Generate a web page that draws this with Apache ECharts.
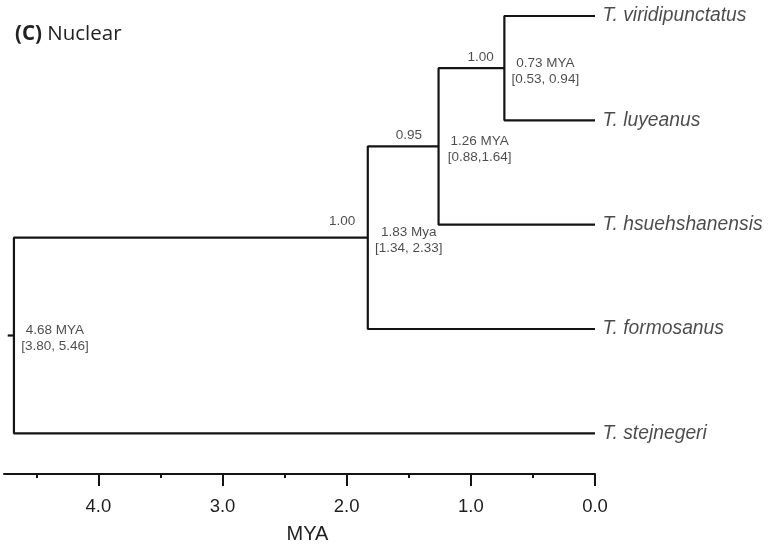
<!DOCTYPE html>
<html>
<head>
<meta charset="utf-8">
<script src="https://cdn.jsdelivr.net/npm/echarts@6/dist/echarts.min.js"></script>
<style>
html,body{margin:0;padding:0;background:#fff;}
#chart{width:768px;height:549px;}
</style>
</head>
<body>
<div id="chart"></div>
<script>
// ---- data ----
const taxa = ['T. viridipunctatus', 'T. luyeanus', 'T. hsuehshanensis', 'T. formosanus', 'T. stejnegeri'];
const nodeAges = [0.73, 1.26, 1.83, 4.68];
const nodeAgeLabels = ['0.73 MYA', '1.26 MYA', '1.83 Mya', '4.68 MYA'];
const nodeHPD = ['[0.53, 0.94]', '[0.88,1.64]', '[1.34, 2.33]', '[3.80, 5.46]'];
const nodeSupport = ['1.00', '0.95', '1.00', null];
// children of each node: 'L' = leaf index, 'N' = node index
const nodeChildren = [
  [['L', 0], ['L', 1]],
  [['N', 0], ['L', 2]],
  [['N', 1], ['L', 3]],
  [['N', 2], ['L', 4]]
];
const xTicks = [0, 1, 2, 3, 4];
const xMinorTicks = [0.5, 1.5, 2.5, 3.5, 4.5];
const axisName = 'MYA';

// ---- layout derived from topology ----
const LINE = '#141414';
const TXT = '#1e1e1e';
const FONT = '"Liberation Sans", Arial, sans-serif';
const nodeY = [];
function childPos(c) {
  return c[0] === 'L' ? [0, c[1]] : [nodeAges[c[1]], nodeY[c[1]]];
}
nodeChildren.forEach((ch, i) => {
  const a = childPos(ch[0]), b = childPos(ch[1]);
  nodeY[i] = (a[1] + b[1]) / 2;
});

const series = [];
nodeChildren.forEach((ch, i) => {
  const a = childPos(ch[0]), b = childPos(ch[1]);
  series.push({
    type: 'line', xAxisIndex: 0, yAxisIndex: 0, symbol: 'none', silent: true,
    lineStyle: {color: LINE, width: 2.2}, z: 3,
    data: [[a[0], a[1]], [nodeAges[i], a[1]], [nodeAges[i], b[1]], [b[0], b[1]]]
  });
});
// root stub
const rootIdx = nodeAges.length - 1;
series.push({
  type: 'line', symbol: 'none', silent: true, lineStyle: {color: LINE, width: 2.2},
  data: [[nodeAges[rootIdx] + 0.05, nodeY[rootIdx]], [nodeAges[rootIdx], nodeY[rootIdx]]]
});
// leaf labels
series.push({
  type: 'scatter', symbolSize: 1, itemStyle: {color: 'rgba(0,0,0,0)'}, silent: true,
  data: taxa.map((t, i) => ({value: [0, i], name: t})),
  label: {
    show: true, position: 'right', distance: 7,
    formatter: p => p.name,
    fontFamily: FONT, fontStyle: 'italic', fontSize: 19.3, color: TXT
  }
});
// node age labels
series.push({
  type: 'scatter', symbolSize: 1, itemStyle: {color: 'rgba(0,0,0,0)'}, silent: true,
  data: nodeAges.map((a, i) => ({value: [a, nodeY[i]], name: nodeAgeLabels[i] + '\n' + nodeHPD[i]})),
  label: {
    show: true, position: 'inside', offset: [41, 3], align: 'center', verticalAlign: 'middle',
    formatter: p => p.name, lineHeight: 16,
    fontFamily: FONT, fontSize: 13.5, color: TXT
  }
});
// support labels (on branch leading into node, placed left of node)
const supOffsets = [[-10, -11], [-16, -11], [-12, -16]];
series.push({
  type: 'scatter', symbolSize: 1, itemStyle: {color: 'rgba(0,0,0,0)'}, silent: true,
  data: nodeAges.map((a, i) => nodeSupport[i] == null ? null : ({
    value: [a, nodeY[i]], name: nodeSupport[i],
    label: {offset: supOffsets[i]}
  })).filter(d => d),
  label: {
    show: true, position: 'left', distance: 0, align: 'right', verticalAlign: 'middle',
    formatter: p => p.name, fontFamily: FONT, fontSize: 13.5, color: TXT
  }
});

const chart = echarts.init(document.getElementById('chart'), null, {renderer: 'canvas'});
chart.setOption({
  animation: false,
  backgroundColor: '#fff',
  title: {
    text: '{b|(C)} Nuclear', left: 10, top: 19,
    textStyle: {
      fontFamily: '"Open Sans", sans-serif', fontSize: 20.5, fontWeight: 'normal', color: '#222',
      rich: {b: {fontFamily: '"Open Sans", sans-serif', fontSize: 20.5, fontWeight: 'bold', color: '#222'}}
    }
  },
  grid: {left: 4, right: 173, top: 16, bottom: 70, containLabel: false},
  xAxis: [{
    type: 'value', inverse: true, min: 0, max: 4.76, position: 'bottom',
    name: axisName, nameLocation: 'middle', nameGap: 50,
    nameTextStyle: {fontFamily: FONT, fontSize: 20, color: TXT, padding: [0, 0, 0, 16]},
    axisLine: {show: true, onZero: false, lineStyle: {color: LINE, width: 2}},
    axisTick: {show: true, customValues: xTicks, length: 12, lineStyle: {color: LINE, width: 2}},
    axisLabel: {
      show: true, customValues: xTicks, margin: 23,
      formatter: v => v.toFixed(1), fontFamily: FONT, fontSize: 18.5, color: TXT
    },
    splitLine: {show: false}
  }, {
    type: 'value', inverse: true, min: 0, max: 4.76, position: 'bottom',
    axisLine: {show: false, onZero: false},
    axisTick: {show: true, customValues: xMinorTicks, length: 4, lineStyle: {color: LINE, width: 2}},
    axisLabel: {show: false},
    splitLine: {show: false}
  }],
  yAxis: {type: 'value', inverse: true, min: 0, max: 4.39, show: false},
  series: series
});
</script>
</body>
</html>
